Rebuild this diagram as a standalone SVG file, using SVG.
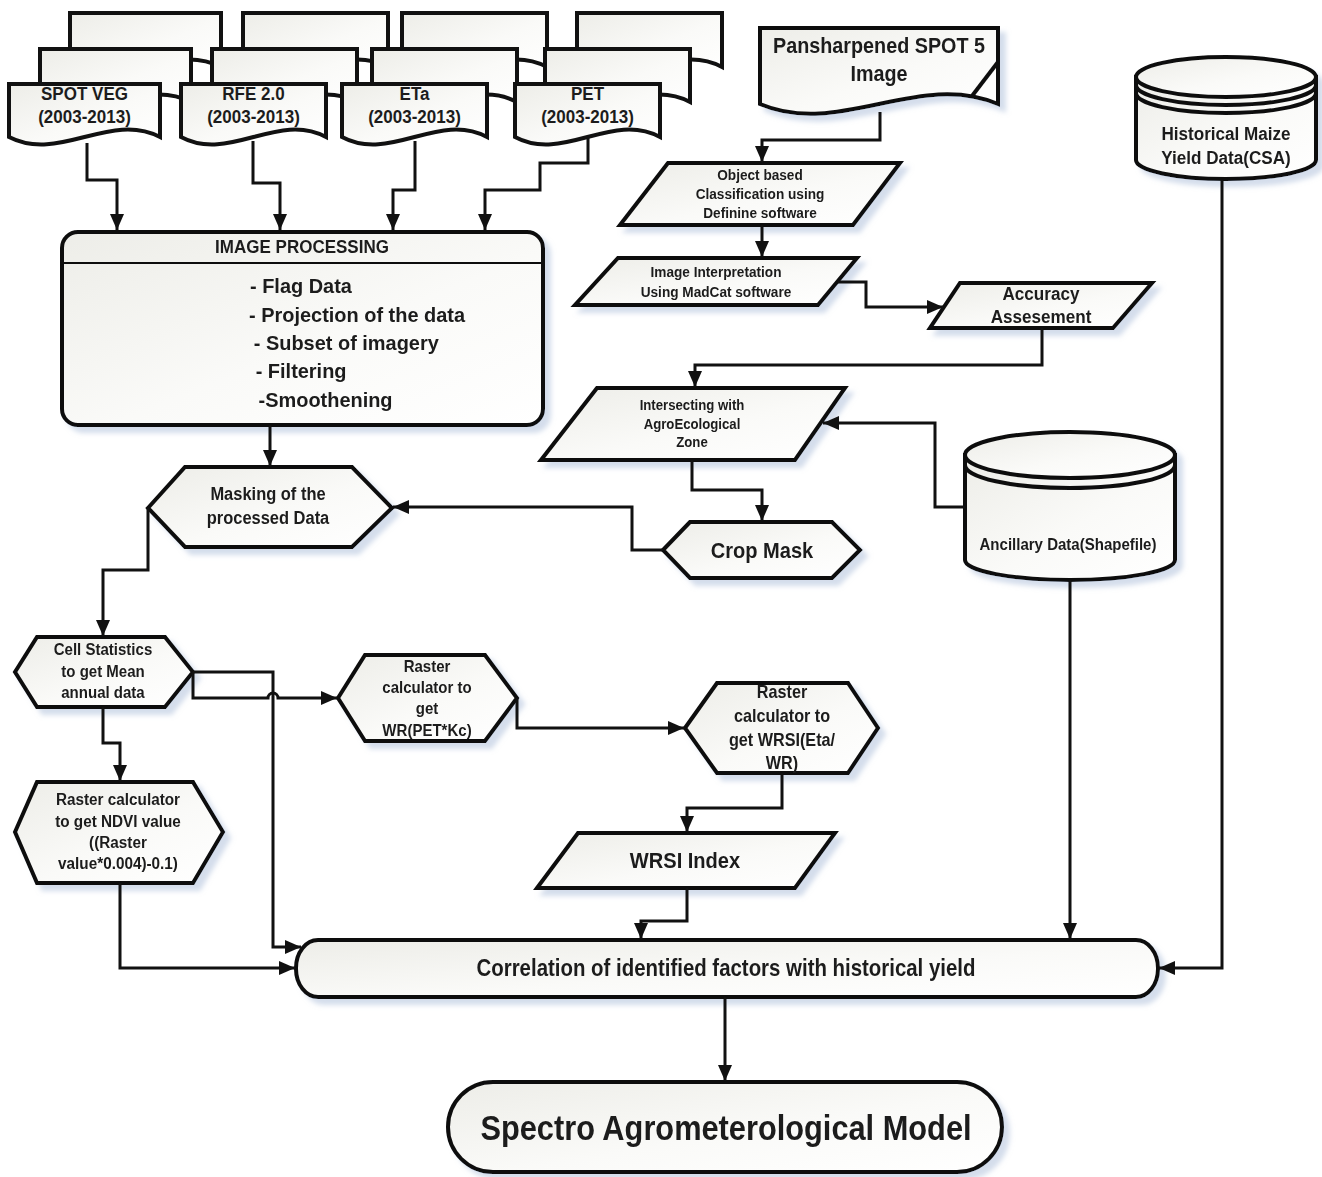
<svg xmlns="http://www.w3.org/2000/svg" width="1322" height="1177" viewBox="0 0 1322 1177">
<defs>
<linearGradient id="g" x1="0" y1="0" x2="1" y2="1">
<stop offset="0" stop-color="#ededE8"/>
<stop offset="0.55" stop-color="#fafaf8"/>
<stop offset="1" stop-color="#ffffff"/>
</linearGradient>
<filter id="sh" x="-10%" y="-10%" width="130%" height="140%">
<feDropShadow dx="6" dy="6" stdDeviation="2.5" flood-color="#a9bcd8" flood-opacity="0.5"/>
</filter>
<marker id="ah" markerUnits="userSpaceOnUse" markerWidth="16" markerHeight="14" refX="16" refY="7" orient="auto">
<path d="M0,0 L16,7 L0,14 Z" fill="#111"/>
</marker>
</defs>
<style>
.s{fill:url(#g);stroke:#111;stroke-width:4;stroke-linejoin:miter}
.sh{filter:url(#sh)}
.d{fill:url(#g);stroke:#111;stroke-width:4}
.ln{fill:none;stroke:#111;stroke-width:3;marker-end:url(#ah)}
.pl{fill:none;stroke:#111;stroke-width:4}
text{font-family:"Liberation Sans",Arial,sans-serif;font-weight:bold;fill:#1c1c1c;text-anchor:middle}
.l{text-anchor:start}
</style>
<rect width="1322" height="1177" fill="#ffffff"/>

<g id="docs-back">
<path class="d" d="M70,13 H221 V67 C170.7,41 120.3,93 70,67 Z"/>
<path class="d" d="M243,13 H388 V67 C339.7,41 291.3,93 243,67 Z"/>
<path class="d" d="M402,13 H547 V67 C498.7,41 450.3,93 402,67 Z"/>
<path class="d" d="M577,13 H722 V67 C673.7,41 625.3,93 577,67 Z"/>
</g>
<g id="docs-middle">
<path class="d" d="M40,49 H191 V102 C140.7,76 90.3,128 40,102 Z"/>
<path class="d" d="M212,49 H357 V102 C308.7,76 260.3,128 212,102 Z"/>
<path class="d" d="M372,49 H517 V102 C468.7,76 420.3,128 372,102 Z"/>
<path class="d" d="M545,49 H690 V102 C641.7,76 593.3,128 545,102 Z"/>
</g>
<g id="spot-veg">
<path class="d" d="M9,84 H160 V137 C109.7,111 59.3,163 9,137 Z"/>
<g transform="translate(84.5,0) scale(0.92,1)">
<text x="0" y="100" font-size="18.5">SPOT VEG</text>
<text x="0" y="123" font-size="18.5">(2003-2013)</text>
</g>
</g>
<g id="rfe">
<path class="d" d="M181,84 H326 V137 C277.7,111 229.3,163 181,137 Z"/>
<g transform="translate(253.5,0) scale(0.92,1)">
<text x="0" y="100" font-size="18.5">RFE 2.0</text>
<text x="0" y="123" font-size="18.5">(2003-2013)</text>
</g>
</g>
<g id="eta">
<path class="d" d="M342,84 H487 V137 C438.7,111 390.3,163 342,137 Z"/>
<g transform="translate(414.5,0) scale(0.92,1)">
<text x="0" y="100" font-size="18.5">ETa</text>
<text x="0" y="123" font-size="18.5">(2003-2013)</text>
</g>
</g>
<g id="pet">
<path class="d" d="M515,84 H660 V137 C611.7,111 563.3,163 515,137 Z"/>
<g transform="translate(587.5,0) scale(0.92,1)">
<text x="0" y="100" font-size="18.5">PET</text>
<text x="0" y="123" font-size="18.5">(2003-2013)</text>
</g>
</g>

<g id="pansharpened" class="sh">
<path class="d" d="M760,28 H998 V104 C918.7,70 839.3,138 760,104 Z"/>
<path class="pl" d="M972,96 L998,62"/>
<g transform="translate(879,0) scale(0.92,1)">
<text x="0" y="53" font-size="21.5">Pansharpened SPOT 5</text>
<text x="0" y="81" font-size="21.5">Image</text>
</g>
</g>

<g id="historical" class="sh">
<path class="d" d="M1136,77 V160 A90,19 0 0 0 1316,160 V77 Z"/>
<ellipse class="d" cx="1226" cy="77" rx="90" ry="20"/>
<path class="pl" d="M1136,85 A90,20 0 0 0 1316,85"/>
<path class="pl" d="M1136,93 A90,20 0 0 0 1316,93"/>
<g transform="translate(1226,0) scale(0.9,1)">
<text x="0" y="140" font-size="19">Historical Maize</text>
<text x="0" y="164" font-size="19">Yield Data(CSA)</text>
</g>
</g>

<g id="image-processing" class="sh">
<rect class="s" x="62" y="232" width="481" height="193" rx="16"/>
<line x1="62" y1="263" x2="543" y2="263" stroke="#111" stroke-width="2"/>
<g transform="translate(302,0) scale(0.92,1)">
<text x="0" y="253" font-size="18.5">IMAGE PROCESSING</text>
</g>
<g transform="translate(250,0) scale(0.95,1)">
<text class="l" x="0" y="293" font-size="21">- Flag Data</text>
<text class="l" x="-1" y="322" font-size="21">- Projection of the data</text>
<text class="l" x="4" y="350" font-size="21">- Subset of imagery</text>
<text class="l" x="6" y="378" font-size="21">- Filtering</text>
<text class="l" x="9" y="407" font-size="21">-Smoothening</text>
</g>
</g>

<g id="object-based" class="sh">
<polygon class="s" points="668,163 900,163 853,225 620,225"/>
<g transform="translate(760,0) scale(0.88,1)">
<text x="0" y="180" font-size="15.5">Object based</text>
<text x="0" y="199" font-size="15.5">Classification using</text>
<text x="0" y="218" font-size="15.5">Definine software</text>
</g>
</g>

<g id="image-interpretation" class="sh">
<polygon class="s" points="618,258 857,258 818,305 575,305"/>
<g transform="translate(716,0) scale(0.88,1)">
<text x="0" y="277" font-size="15.5">Image Interpretation</text>
<text x="0" y="297" font-size="15.5">Using MadCat software</text>
</g>
</g>

<g id="accuracy" class="sh">
<polygon class="s" points="960,283 1152,283 1113,328 930,328"/>
<g transform="translate(1041,0) scale(0.9,1)">
<text x="0" y="300" font-size="19">Accuracy</text>
<text x="0" y="323" font-size="19">Assesement</text>
</g>
</g>

<g id="intersecting" class="sh">
<polygon class="s" points="597,388 845,388 795,460 541,460"/>
<g transform="translate(692,0) scale(0.88,1)">
<text x="0" y="410" font-size="15">Intersecting with</text>
<text x="0" y="429" font-size="15">AgroEcological</text>
<text x="0" y="447" font-size="15">Zone</text>
</g>
</g>

<g id="ancillary" class="sh">
<path class="d" d="M965,455 V560 A105,20 0 0 0 1175,560 V455 Z"/>
<ellipse class="d" cx="1070" cy="455" rx="105" ry="23"/>
<path class="pl" d="M965,465 A105,23 0 0 0 1175,465"/>
<g transform="translate(1068,0) scale(0.9,1)">
<text x="0" y="550" font-size="16.7">Ancillary Data(Shapefile)</text>
</g>
</g>

<g id="masking" class="sh">
<polygon class="s" points="148,508 185,467 352,467 392,508 352,547 185,547"/>
<g transform="translate(268,0) scale(0.9,1)">
<text x="0" y="500" font-size="18.3">Masking of the</text>
<text x="0" y="524" font-size="18.3">processed Data</text>
</g>
</g>

<g id="crop-mask" class="sh">
<polygon class="s" points="663,550 690,522 832,522 860,550 832,578 690,578"/>
<g transform="translate(762,0) scale(0.9,1)">
<text x="0" y="558" font-size="22.3">Crop Mask</text>
</g>
</g>

<g id="cell-statistics" class="sh">
<polygon class="s" points="15,672 37,637 165,637 193,672 165,707 37,707"/>
<g transform="translate(103,0) scale(0.9,1)">
<text x="0" y="655" font-size="16.7">Cell Statistics</text>
<text x="0" y="677" font-size="16.7">to get Mean</text>
<text x="0" y="698" font-size="16.7">annual data</text>
</g>
</g>

<g id="raster-wr" class="sh">
<polygon class="s" points="338,698 365,655 485,655 517,698 485,741 365,741"/>
<g transform="translate(427,0) scale(0.9,1)">
<text x="0" y="672" font-size="16.7">Raster</text>
<text x="0" y="693" font-size="16.7">calculator to</text>
<text x="0" y="714" font-size="16.7">get</text>
<text x="0" y="736" font-size="16.7">WR(PET*Kc)</text>
</g>
</g>

<g id="raster-wrsi" class="sh">
<polygon class="s" points="685,728 717,683 848,683 878,728 848,773 717,773"/>
<g transform="translate(782,0) scale(0.9,1)">
<text x="0" y="698" font-size="18">Raster</text>
<text x="0" y="722" font-size="18">calculator to</text>
<text x="0" y="746" font-size="18">get WRSI(Eta/</text>
<text x="0" y="769" font-size="18">WR)</text>
</g>
</g>

<g id="wrsi-index" class="sh">
<polygon class="s" points="578,833 835,833 795,888 537,888"/>
<g transform="translate(685,0) scale(0.9,1)">
<text x="0" y="868" font-size="22.3">WRSI Index</text>
</g>
</g>

<g id="raster-ndvi" class="sh">
<polygon class="s" points="15,832 37,782 193,782 223,832 193,883 37,883"/>
<g transform="translate(118,0) scale(0.9,1)">
<text x="0" y="805" font-size="17">Raster calculator</text>
<text x="0" y="827" font-size="17">to get NDVI value</text>
<text x="0" y="848" font-size="17">((Raster</text>
<text x="0" y="869" font-size="17">value*0.004)-0.1)</text>
</g>
</g>

<g id="correlation" class="sh">
<rect class="s" x="296" y="940" width="862" height="57" rx="22" ry="28"/>
<g transform="translate(726,0) scale(0.88,1)">
<text x="0" y="976" font-size="23.2">Correlation of identified factors with historical yield</text>
</g>
</g>

<g id="spectro" class="sh">
<rect class="s" x="448" y="1082" width="554" height="90" rx="45"/>
<g transform="translate(726,0) scale(0.9,1)">
<text x="0" y="1140" font-size="34.2">Spectro Agrometerological Model</text>
</g>
</g>

<g id="connectors">
<path class="ln" d="M87,143 V180 H117 V230"/>
<path class="ln" d="M253,141 V183 H280 V230"/>
<path class="ln" d="M415,141 V190 H393 V230"/>
<path class="ln" d="M588,138 V163 H540 V190 H485 V230"/>
<path class="ln" d="M270,425 V466"/>
<path class="ln" d="M148,508 V570 H103 V636"/>
<path class="ln" d="M663,550 H632 V507 H393"/>
<path class="ln" d="M692,460 V490 H762 V521"/>
<path class="ln" d="M1042,328 V365 H695 V387"/>
<path class="ln" d="M838,282 H866 V307 H943"/>
<path class="ln" d="M762,225 V257"/>
<path class="ln" d="M880,112 V140 H762 V162"/>
<path class="ln" d="M965,507 H935 V423 H823"/>
<path class="ln" d="M1070,580 V939"/>
<path class="ln" d="M1222,180 V968 H1159"/>
<path class="ln" d="M193,672 H273 V947 H301"/>
<path class="ln" d="M193,672 V698 H268 A5,5 0 0 1 278,698 H337"/>
<path class="ln" d="M103,707 V743 H120 V781"/>
<path class="ln" d="M120,883 V968 H295"/>
<path class="ln" d="M517,698 V728 H684"/>
<path class="ln" d="M782,773 V808 H687 V832"/>
<path class="ln" d="M687,888 V921 H641 V939"/>
<path class="ln" d="M725,997 V1081"/>
</g>
</svg>
